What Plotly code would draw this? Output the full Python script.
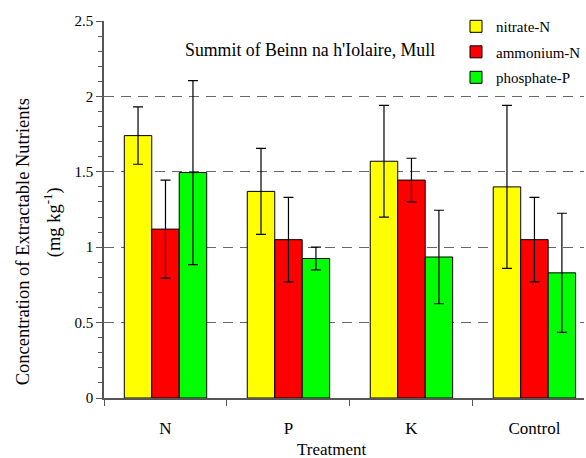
import plotly.graph_objects as go

treatments = ["N", "P", "K", "Control"]
series_names = ["nitrate-N", "ammonium-N", "phosphate-P"]
nitrate = [1.74, 1.37, 1.57, 1.40]
nitrate_err = [0.19, 0.285, 0.37, 0.54]
ammonium = [1.12, 1.05, 1.445, 1.05]
ammonium_err = [0.325, 0.28, 0.145, 0.28]
phosphate = [1.495, 0.925, 0.935, 0.83]
phosphate_err = [0.61, 0.075, 0.31, 0.395]
colors = ["#FFFF00", "#FF0000", "#00FF00"]

SERIF = "Liberation Serif"

fig = go.Figure()
for name, vals, errs, col in zip(series_names, [nitrate, ammonium, phosphate],
                                 [nitrate_err, ammonium_err, phosphate_err], colors):
    fig.add_trace(go.Bar(
        x=treatments, y=vals, name=name, legendgroup=name,
        marker=dict(color=col, line=dict(color="black", width=1)),
        error_y=dict(type="data", array=errs, visible=True, color="black",
                     thickness=1.2, width=5),
    ))

fig.update_layout(
    width=586, height=458,
    margin=dict(l=104, r=0, t=21, b=60),
    paper_bgcolor="white", plot_bgcolor="white",
    barmode="group", bargap=0.33, bargroupgap=0,
    font=dict(family=SERIF, color="black"),
    showlegend=True,
    legend=dict(x=0.734, y=1.029, xanchor="left", yanchor="top",
                font=dict(size=15, family=SERIF, color="black"), tracegroupgap=3,
                bgcolor="rgba(0,0,0,0)", itemwidth=30),
    xaxis=dict(type="category", range=[-0.5, 3.403], tickson="boundaries",
               ticks="outside", ticklen=6, tickcolor="#555", showline=True,
               linecolor="#555", linewidth=1.5, showgrid=False,
               tickfont=dict(size=17, family=SERIF, color="black"),
               ticklabelstandoff=14),
    yaxis=dict(range=[0, 2.5], dtick=0.5, ticks="outside", ticklen=6,
               tickcolor="#555", showline=True, linecolor="#555", linewidth=1.5,
               showgrid=True, gridcolor="#666", griddash="10px,7px", gridwidth=1,
               zeroline=False, tickfont=dict(size=15, family=SERIF, color="black"),
               minor=dict(dtick=0.1, ticks="outside", ticklen=4, tickcolor="#555",
                          showgrid=False)),
    annotations=[
        dict(text="Summit of Beinn na h'Iolaire, Mull", x=(311 - 104) / 482,
             y=(398 - 50) / 377, xref="paper", yref="paper", showarrow=False,
             xanchor="center", yanchor="middle",
             font=dict(size=17.8, family=SERIF, color="black")),
        dict(text="Treatment", x=(333 - 104) / 482, y=(398 - 449.5) / 377,
             xref="paper", yref="paper", showarrow=False,
             xanchor="center", yanchor="middle",
             font=dict(size=17, family=SERIF, color="black")),
        dict(text="Concentration of Extractable Nutrients", x=(23 - 104) / 482,
             y=(398 - 242) / 377, xref="paper", yref="paper", showarrow=False,
             xanchor="center", yanchor="middle", textangle=-90,
             font=dict(size=18.5, family=SERIF, color="black")),
        dict(text="(mg kg<sup>-1</sup>)", x=(52 - 104) / 482,
             y=(398 - 222) / 377, xref="paper", yref="paper", showarrow=False,
             xanchor="center", yanchor="middle", textangle=-90,
             font=dict(size=18.5, family=SERIF, color="black")),
    ],
)

fig.write_html("out.html", config={"displayModeBar": False},
               post_script="document.body.style.margin='0px';document.body.style.overflow='hidden';")
